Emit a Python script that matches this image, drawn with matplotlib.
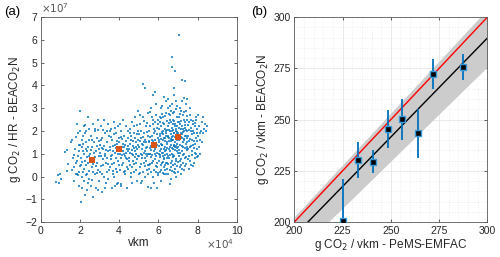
import matplotlib
matplotlib.use("Agg")
import matplotlib.pyplot as plt
from matplotlib.ticker import MultipleLocator
import numpy as np

plt.rcParams['font.family'] = ['Liberation Sans', 'DejaVu Sans']

# ---- panel (a): hourly scatter, x in units of 1e4 vkm, y in units of 1e7 g CO2 / HR
scatter_pts = [
    (0.78, -0.22), (0.88, 0.05), (0.92, -0.28), (1.0, 0.12), (1.05, -0.1), (1.22, 1.08), (1.33, 1.15),
    (1.4, 0.55), (1.35, 0.25), (1.55, 1.5),
    (1.6, 0.3), (1.65, 0.8), (1.7, -0.2), (1.75, 1.2), (1.8, 0.6), (1.82, 0.1), (1.85, 2.3), (1.88, 1.9),
    (1.9, 0.05), (1.92, 0.9), (1.95, 1.4), (1.97, -0.4), (1.98, 0.45), (1.7, 0.95), (1.6, 1.6), (1.78, 1.75),
    (1.86, 0.12), (1.93, 1.1), (1.99, 2.0), (1.83, 0.7), (1.68, 0.4), (1.95, 0.2),
    (2.02, 2.9), (2.05, -1.1), (2.08, 0.5), (2.1, 1.3), (2.12, -0.5), (2.15, 1.8), (2.18, 0.2), (2.2, 2.2),
    (2.22, 1.0), (2.25, -0.8), (2.28, 0.7), (2.3, 2.0), (2.32, 1.5), (2.35, 0.1), (2.38, 1.1), (2.4, 2.6),
    (2.42, -0.3), (2.45, 0.9), (2.48, 1.6), (2.05, 0.8), (2.1, 0.0), (2.15, 1.1), (2.2, 0.35), (2.25, 1.9),
    (2.3, 0.5), (2.35, -0.6), (2.4, 1.3), (2.45, 0.25), (2.1, 1.6), (2.2, -0.2), (2.3, 1.2), (2.4, 0.6),
    (2.48, 2.1), (2.03, 1.4), (2.13, 0.65), (2.27, 2.25), (2.37, 0.85), (2.46, -0.1), (2.18, 1.45), (2.33, 0.05),
    (2.52, 1.0), (2.55, -0.4), (2.58, 1.8), (2.6, 0.4), (2.62, 1.3), (2.65, 2.3), (2.68, -0.9), (2.7, 0.8),
    (2.72, 1.5), (2.75, 0.1), (2.78, 2.0), (2.8, 1.1), (2.82, -0.5), (2.85, 0.6), (2.88, 1.7), (2.9, 2.5),
    (2.92, 0.3), (2.95, 1.2), (2.98, -0.2), (2.55, 0.7), (2.6, 1.6), (2.65, 0.2), (2.7, 1.05), (2.75, 2.1),
    (2.8, 0.45), (2.85, 1.35), (2.9, -0.6), (2.95, 0.9), (2.58, 1.15), (2.68, 0.55), (2.78, 0.85), (2.88, 0.15),
    (2.98, 1.55), (2.63, -0.15), (2.93, 2.05),
    (3.02, 1.4), (3.05, 0.2), (3.08, 2.2), (3.1, 0.9), (3.12, -0.7), (3.15, 1.7), (3.18, 0.5), (3.2, 1.2),
    (3.22, 2.5), (3.25, 0.0), (3.28, 1.0), (3.3, 1.9), (3.32, 0.6), (3.35, -0.3), (3.38, 1.5), (3.4, 0.8),
    (3.42, 2.3), (3.45, 1.1), (3.48, 0.3), (3.05, 1.05), (3.1, 1.6), (3.15, 0.1), (3.2, 0.75), (3.25, 1.35),
    (3.3, -0.5), (3.35, 1.15), (3.4, 2.0), (3.45, 0.55), (3.07, 0.45), (3.17, 2.05), (3.27, 0.9), (3.37, 0.2),
    (3.47, 1.8), (3.13, 1.25), (3.43, -0.1),
    (3.52, 1.3), (3.55, 0.4), (3.58, 2.1), (3.6, 0.9), (3.62, -0.5), (3.65, 1.6), (3.68, 0.1), (3.7, 1.1),
    (3.72, 2.4), (3.75, 0.6), (3.78, 1.4), (3.8, -0.4), (3.82, 1.9), (3.85, 0.8), (3.88, 1.2), (3.9, 0.2),
    (3.92, 2.2), (3.95, 1.0), (3.98, 0.5), (3.55, 1.15), (3.6, 1.75), (3.65, 0.55), (3.7, 0.25), (3.75, 1.85),
    (3.8, 1.05), (3.85, 0.35), (3.9, 1.55), (3.95, -0.3), (3.57, 0.75), (3.67, 1.35), (3.77, 2.15), (3.87, 1.45),
    (3.97, 1.7), (3.63, 0.95), (3.73, 0.0), (3.83, 1.25), (3.93, 0.7), (3.53, 2.0), (3.89, -0.35), (3.99, 1.3),
    (4.02, 1.5), (4.05, 0.3), (4.08, 2.0), (4.1, 0.8), (4.12, -0.35), (4.15, 1.3), (4.18, 2.5), (4.2, 0.6),
    (4.22, 1.1), (4.25, 1.8), (4.28, 0.1), (4.3, 1.4), (4.32, 0.9), (4.35, 2.2), (4.38, 0.4), (4.4, 1.2),
    (4.42, -0.5), (4.45, 1.7), (4.48, 0.7), (4.03, 1.0), (4.07, 1.25), (4.13, 0.5), (4.17, 1.65), (4.23, 0.2),
    (4.27, 1.0), (4.33, 1.55), (4.37, 0.8), (4.43, 2.0), (4.47, 1.1), (4.06, 2.3), (4.16, 0.95), (4.26, 1.3),
    (4.36, 1.05), (4.46, 0.35), (4.11, 1.75), (4.21, 1.45), (4.31, 0.25), (4.41, 0.75), (4.09, -0.4), (4.44, 1.35),
    (4.52, 1.2), (4.55, 2.1), (4.58, 0.5), (4.6, 1.6), (4.62, 0.0), (4.65, 1.0), (4.68, 2.4), (4.7, 0.7),
    (4.72, 1.35), (4.75, 1.9), (4.78, 0.2), (4.8, 1.1), (4.82, 2.6), (4.85, 0.6), (4.88, 1.5), (4.9, -0.2),
    (4.92, 1.2), (4.95, 2.0), (4.98, 0.9), (4.53, 0.8), (4.57, 1.45), (4.63, 1.8), (4.67, 0.4), (4.73, 0.95),
    (4.77, 1.25), (4.83, 1.7), (4.87, 0.3), (4.93, 0.75), (4.97, 1.6), (4.54, 1.9), (4.64, 1.15), (4.74, 2.2),
    (4.84, 1.0), (4.94, 1.4), (4.59, 0.15), (4.69, 1.55), (4.79, 0.85), (4.89, 2.25), (4.99, 0.1), (4.56, 1.05),
    (4.76, 0.55), (4.86, 1.3), (4.96, 2.9), (4.66, -0.3), (4.91, 1.85),
    (5.02, 1.3), (5.05, 0.4), (5.08, 2.3), (5.1, 1.0), (5.12, 1.7), (5.15, -0.2), (5.18, 0.8), (5.2, 2.6),
    (5.22, 1.4), (5.25, 0.6), (5.28, 1.9), (5.3, 1.1), (5.32, 0.0), (5.35, 2.2), (5.38, 1.5), (5.4, 0.3),
    (5.42, 0.9), (5.45, 1.8), (5.48, 2.8), (5.03, 0.9), (5.07, 1.55), (5.13, 2.0), (5.17, 1.2), (5.23, 0.2),
    (5.27, 1.05), (5.33, 1.6), (5.37, 0.7), (5.43, 1.3), (5.47, 0.5), (5.04, 1.85), (5.14, 0.55), (5.24, 1.75),
    (5.34, 0.45), (5.44, 2.35), (5.09, 0.15), (5.19, 1.45), (5.29, 2.45), (5.39, 1.25), (5.49, 1.0), (5.06, 2.7),
    (5.16, 0.95), (5.26, 1.5), (5.36, 1.0), (5.46, 0.1), (5.11, -0.3), (5.31, 0.8), (5.41, 1.95), (5.21, 4.05),
    (5.3, 3.9), (5.45, -0.45),
    (5.52, 1.5), (5.55, 0.5), (5.58, 2.2), (5.6, 1.0), (5.62, 3.0), (5.65, 0.2), (5.68, 1.8), (5.7, 1.3),
    (5.72, 0.7), (5.75, 2.5), (5.78, 1.1), (5.8, -0.3), (5.82, 1.6), (5.85, 2.0), (5.88, 0.9), (5.9, 3.2),
    (5.92, 1.4), (5.95, 0.4), (5.98, 2.3), (5.53, 1.0), (5.57, 1.75), (5.63, 0.85), (5.67, 2.6), (5.73, 1.55),
    (5.77, 0.3), (5.83, 1.2), (5.87, 2.7), (5.93, 0.6), (5.97, 1.7), (5.54, 2.0), (5.64, 1.35), (5.74, 0.0),
    (5.84, 0.75), (5.94, 1.05), (5.59, 0.55), (5.69, 0.95), (5.79, 1.9), (5.89, 1.3), (5.99, 0.15), (5.56, 1.25),
    (5.66, 1.6), (5.76, 2.1), (5.86, 0.45), (5.96, 2.5), (5.61, -0.5), (5.71, 2.3), (5.81, 1.0), (5.91, 1.85),
    (5.51, 0.35), (5.73, 3.6), (5.85, 3.7), (5.95, -0.5), (5.6, 2.85), (5.78, 1.45), (5.88, 0.2), (5.68, 0.6),
    (5.92, 2.15), (5.55, 1.55), (5.83, 2.4), (5.65, 1.15),
    (6.02, 1.6), (6.05, 0.7), (6.08, 2.4), (6.1, 1.1), (6.12, 3.0), (6.15, 0.3), (6.18, 1.9), (6.2, 1.4),
    (6.22, 0.9), (6.25, 2.6), (6.28, 1.2), (6.3, 0.1), (6.32, 1.7), (6.35, 2.1), (6.38, 0.6), (6.4, 3.3),
    (6.42, 1.5), (6.45, 0.8), (6.48, 2.2), (6.03, 1.0), (6.07, 1.8), (6.13, 0.5), (6.17, 2.75), (6.23, 1.6),
    (6.27, 0.4), (6.33, 1.3), (6.37, 2.0), (6.43, 0.35), (6.47, 1.75), (6.04, 2.1), (6.14, 1.45), (6.24, 0.65),
    (6.34, 0.95), (6.44, 2.45), (6.09, 0.2), (6.19, 1.05), (6.29, 2.3), (6.39, 1.15), (6.49, 0.55), (6.06, 1.35),
    (6.16, 2.2), (6.26, 1.85), (6.36, 0.3), (6.46, 1.25), (6.11, 0.85), (6.21, 1.95), (6.31, 0.75), (6.41, 1.9),
    (6.01, 0.05), (6.15, 1.65), (6.25, 1.05), (6.35, 1.55), (6.45, 1.0), (6.12, 2.55), (6.22, 0.15), (6.32, 2.65),
    (6.42, 0.6), (6.05, 1.5), (6.28, 1.7), (6.38, 1.8), (6.48, 0.9), (6.18, 0.6), (6.08, 0.95), (6.4, 2.8),
    (6.2, 3.1), (6.3, 3.5), (6.15, -0.2), (6.45, 2.05), (6.35, 1.1), (6.25, 2.0), (6.1, 1.85), (6.43, 1.45),
    (6.33, 0.5), (6.23, 2.35), (6.13, 1.2), (6.47, 3.0), (6.37, 0.1), (6.27, 0.8), (6.17, 1.4), (6.07, 2.6),
    (6.52, 1.8), (6.55, 0.8), (6.58, 2.5), (6.6, 1.3), (6.62, 3.1), (6.65, 0.4), (6.68, 2.0), (6.7, 1.6),
    (6.72, 1.0), (6.75, 2.8), (6.78, 1.4), (6.8, 0.2), (6.82, 1.9), (6.85, 2.3), (6.88, 0.7), (6.9, 3.3),
    (6.92, 1.7), (6.95, 1.1), (6.98, 2.4), (6.53, 1.2), (6.57, 2.05), (6.63, 0.6), (6.67, 2.9), (6.73, 1.8),
    (6.77, 0.5), (6.83, 1.5), (6.87, 2.2), (6.93, 0.45), (6.97, 1.95), (6.54, 2.35), (6.64, 1.65), (6.74, 0.85),
    (6.84, 1.15), (6.94, 2.6), (6.59, 0.3), (6.69, 1.25), (6.79, 2.45), (6.89, 1.35), (6.99, 0.65), (6.56, 1.55),
    (6.66, 2.4), (6.76, 2.05), (6.86, 0.35), (6.96, 1.45), (6.61, 0.95), (6.71, 2.15), (6.81, 0.9), (6.91, 2.0),
    (6.51, 0.1), (6.65, 1.85), (6.75, 1.2), (6.85, 1.75), (6.95, 1.25), (6.62, 2.7), (6.72, 0.25), (6.82, 2.85),
    (6.92, 0.75), (6.55, 1.7), (6.78, 1.9), (6.88, 2.1), (6.98, 1.05), (6.68, 0.7), (6.58, 1.1), (6.9, 2.95),
    (6.7, 3.2), (6.8, 3.6), (6.65, -0.1), (6.95, 2.2), (6.85, 1.3), (6.75, 2.3), (6.6, 2.0), (6.93, 1.6),
    (6.83, 0.55), (6.73, 2.5), (6.63, 1.4), (6.97, 3.1), (6.87, 0.15), (6.77, 0.95), (6.67, 1.55), (6.57, 2.75),
    (6.72, 4.8), (6.68, 5.25), (6.85, 4.65), (6.8, 3.9), (6.6, -0.35), (6.9, 0.0), (6.7, 1.75), (6.8, 1.35),
    (6.52, 3.4), (6.76, 1.6), (6.94, 1.85),
    (7.02, 1.9), (7.05, 0.9), (7.08, 2.6), (7.1, 1.4), (7.12, 3.0), (7.15, 0.5), (7.18, 2.1), (7.2, 1.7),
    (7.22, 1.1), (7.25, 2.7), (7.28, 1.5), (7.3, 0.3), (7.32, 2.0), (7.35, 2.4), (7.38, 0.8), (7.4, 3.2),
    (7.42, 1.8), (7.45, 1.2), (7.48, 2.5), (7.03, 1.3), (7.07, 2.15), (7.13, 0.7), (7.17, 2.9), (7.23, 1.85),
    (7.27, 0.6), (7.33, 1.6), (7.37, 2.25), (7.43, 0.55), (7.47, 2.0), (7.04, 2.4), (7.14, 1.75), (7.24, 0.95),
    (7.34, 1.25), (7.44, 2.65), (7.09, 0.4), (7.19, 1.35), (7.29, 2.5), (7.39, 1.45), (7.49, 0.75), (7.06, 1.6),
    (7.16, 2.45), (7.26, 2.1), (7.36, 0.45), (7.46, 1.5), (7.11, 1.05), (7.21, 2.2), (7.31, 1.0), (7.41, 2.05),
    (7.01, 0.2), (7.15, 1.9), (7.25, 1.3), (7.35, 1.8), (7.45, 1.3), (7.12, 2.75), (7.22, 0.35), (7.32, 2.85),
    (7.42, 0.85), (7.05, 1.75), (7.28, 1.95), (7.38, 2.15), (7.48, 1.15), (7.18, 0.75), (7.08, 1.15), (7.4, 2.9),
    (7.2, 3.3), (7.3, 3.45), (7.15, 0.1), (7.04, 6.2), (7.22, 4.25), (7.35, 4.2), (7.45, 3.4), (7.1, 2.3),
    (7.3, 1.65), (7.44, 1.7),
    (7.52, 1.8), (7.55, 0.9), (7.58, 2.4), (7.6, 1.3), (7.62, 2.7), (7.65, 0.5), (7.68, 2.0), (7.7, 1.6),
    (7.72, 1.1), (7.75, 2.3), (7.78, 1.4), (7.8, 0.6), (7.82, 1.9), (7.85, 2.2), (7.88, 0.8), (7.9, 2.6),
    (7.92, 1.7), (7.95, 1.2), (7.98, 2.1), (7.53, 1.2), (7.57, 2.05), (7.63, 0.7), (7.67, 2.5), (7.73, 1.85),
    (7.77, 0.45), (7.83, 1.55), (7.87, 2.35), (7.93, 1.0), (7.97, 1.9), (7.54, 2.25), (7.64, 1.65), (7.74, 0.95),
    (7.84, 1.25), (7.94, 2.5), (7.59, 0.35), (7.69, 1.35), (7.79, 2.45), (7.89, 1.45), (7.99, 0.85), (7.56, 1.55),
    (7.66, 2.15), (7.76, 2.0), (7.86, 1.05), (7.96, 1.55), (7.61, 3.0),
    (8.02, 1.8), (8.05, 2.7), (8.08, 1.3), (8.1, 2.2), (8.12, 1.6), (8.15, 1.0), (8.18, 2.0), (8.22, 2.4),
    (8.25, 1.5), (8.3, 1.9), (8.35, 2.1), (8.4, 2.3), (8.45, 2.0), (8.5, 2.2), (8.05, 0.9), (8.15, 1.9),
    (8.28, 2.6),
]
scatter_x = [p[0] for p in scatter_pts]
scatter_y = [p[1] for p in scatter_pts]

bin_x = [2.6, 4.0, 5.8, 7.0]
bin_y = [0.72, 1.21, 1.39, 1.75]

# ---- panel (b): per-vkm comparison
emfac = [225.1, 232.8, 240.6, 248.4, 256.0, 263.9, 271.7, 287.2]
beacon = [200.3, 230.3, 229.5, 245.5, 250.1, 243.4, 272.4, 275.5]
beacon_err = [20.5, 8.6, 5.5, 9.3, 10.2, 12.0, 7.3, 6.3]
fit_slope = 0.966
band_lo, band_hi = 0.919, 1.013

blue = '#0072BD'
orange = '#D95319'
axcol = '#5a5a5a'

fig = plt.figure(figsize=(5.0, 2.57), dpi=100)
ax1 = fig.add_axes([0.0814, 0.136, 0.392, 0.797])
ax2 = fig.add_axes([0.5886, 0.136, 0.386, 0.797])

for ax in (ax1, ax2):
    ax.tick_params(direction='in', top=True, right=True, length=2.5, width=0.5,
                   labelsize=7.5, colors='#262626', pad=2.5)
    for s in ax.spines.values():
        s.set_color(axcol)
        s.set_linewidth(0.6)

ax1.scatter(scatter_x, scatter_y, s=1.6, marker='s', color=blue, linewidths=0, alpha=0.75)
ax1.scatter(bin_x, bin_y, s=14, marker='s', color=orange, linewidths=0, zorder=3)
ax1.set_xlim(0, 10)
ax1.set_ylim(-2, 7)
ax1.set_xticks(range(0, 11, 2))
ax1.set_yticks(range(-2, 8))
ax1.set_xlabel('vkm', fontsize=8.5, labelpad=1, color='#262626')
ax1.set_ylabel('g CO$_2$ / HR - BEACO$_2$N', fontsize=8.5, labelpad=2, color='#262626')
ax1.text(0.0, 1.012, r'$\times10^7$', transform=ax1.transAxes, fontsize=7.5, color='#555555',
         ha='left', va='bottom')
ax1.text(0.985, -0.14, r'$\times10^4$', transform=ax1.transAxes, fontsize=7.5, color='#555555',
         ha='right', va='bottom')

xs = np.array([200, 300])
ax2.fill_between(xs, band_lo * xs, band_hi * xs, color='#cccccc', linewidth=0, zorder=1)
ax2.plot(xs, xs, color='red', lw=1.0, zorder=2)
ax2.plot(xs, fit_slope * xs, color='black', lw=1.0, zorder=2)
ax2.errorbar(emfac, beacon, yerr=beacon_err, fmt='s', color=blue, ecolor=blue, elinewidth=1.3,
             capsize=0, markersize=5, markerfacecolor='black', markeredgecolor='#3a9ad9',
             markeredgewidth=1.0, zorder=3)
ax2.set_xlim(200, 300)
ax2.set_ylim(200, 300)
ax2.set_xticks([200, 225, 250, 275, 300])
ax2.set_yticks([200, 225, 250, 275, 300])
ax2.xaxis.set_minor_locator(MultipleLocator(5))
ax2.yaxis.set_minor_locator(MultipleLocator(5))
ax2.tick_params(which='minor', length=0)
ax2.grid(True, which='major', color='#e6e6e6', lw=0.6, zorder=0)
ax2.grid(True, which='minor', color='#e0e0e0', lw=0.5, ls=(0, (1, 2.5)), zorder=0)
ax2.set_axisbelow(True)
ax2.set_xlabel('g CO$_2$ / vkm - PeMS-EMFAC', fontsize=8.5, labelpad=1, color='#262626')
ax2.set_ylabel('g CO$_2$ / vkm - BEACO$_2$N', fontsize=8.5, labelpad=2, color='#262626')

fig.text(0.008, 0.975, '(a)', fontsize=9.5, ha='left', va='top')
fig.text(0.502, 0.975, '(b)', fontsize=9.5, ha='left', va='top')

fig.savefig('out.png', dpi=100)
